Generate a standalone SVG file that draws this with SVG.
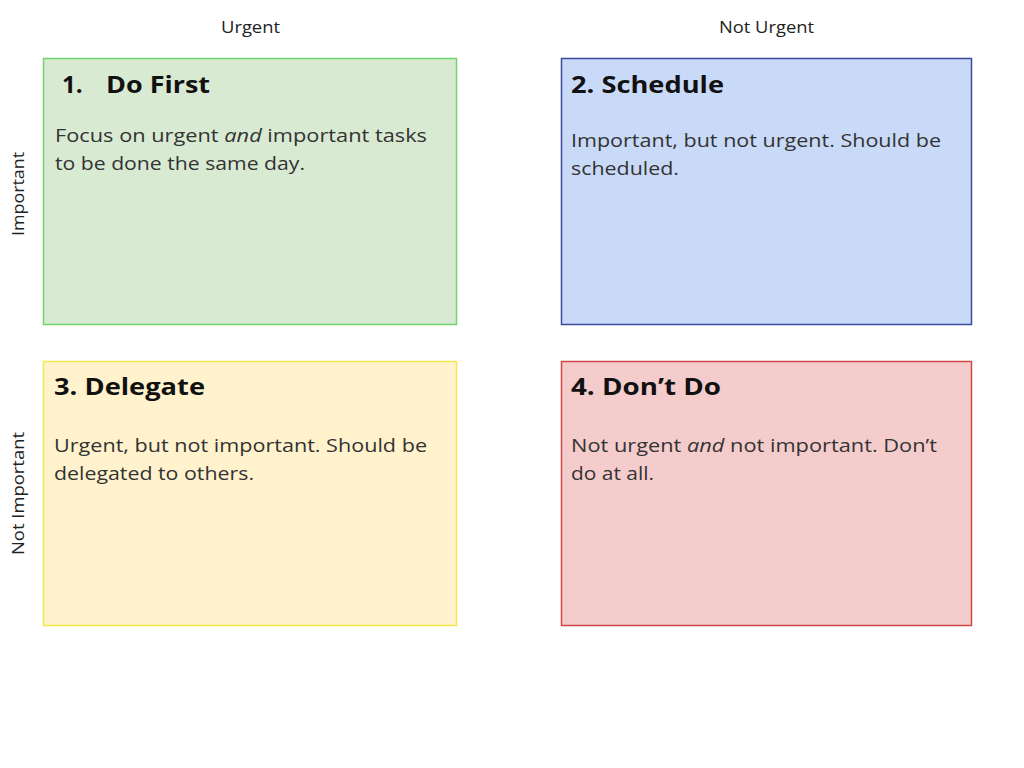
<svg xmlns="http://www.w3.org/2000/svg" width="1024" height="768" viewBox="0 0 1024 768">
<style>
.axis{font-family:"Open Sans","Liberation Sans",sans-serif;font-size:16px;fill:#222}
.title{font-family:"Open Sans","Liberation Sans",sans-serif;font-size:24px;font-weight:bold;fill:#111}
.body{font-family:"Open Sans","Liberation Sans",sans-serif;font-size:19px;fill:#333}
.box{stroke-width:1.5}
</style>
<rect width="1024" height="768" fill="#ffffff"/>
<g id="axes">
<text class="axis" x="221" y="33" textLength="59" lengthAdjust="spacingAndGlyphs">Urgent</text>
<text class="axis" x="719" y="33" textLength="95" lengthAdjust="spacingAndGlyphs">Not Urgent</text>
<text class="axis" transform="translate(24,236) rotate(-90)" textLength="84" lengthAdjust="spacingAndGlyphs">Important</text>
<text class="axis" transform="translate(24,555) rotate(-90)" textLength="123" lengthAdjust="spacingAndGlyphs">Not Important</text>
</g>
<g id="q1">
<rect class="box" x="43.5" y="58.5" width="413" height="266" fill="#d9ead3" stroke="#6fd46f"/>
<text class="title" x="62" y="93">1.</text>
<text class="title" x="106" y="93" textLength="104" lengthAdjust="spacingAndGlyphs">Do First</text>
<text class="body" x="55" y="142" textLength="372" lengthAdjust="spacingAndGlyphs">Focus on urgent <tspan font-style="italic">and</tspan> important tasks</text>
<text class="body" x="55" y="170" textLength="250" lengthAdjust="spacingAndGlyphs">to be done the same day.</text>
</g>
<g id="q2">
<rect class="box" x="561.5" y="58.5" width="410" height="266" fill="#c9daf8" stroke="#3b4a9c"/>
<text class="title" x="571" y="93" textLength="153" lengthAdjust="spacingAndGlyphs">2. Schedule</text>
<text class="body" x="571" y="147" textLength="370" lengthAdjust="spacingAndGlyphs">Important, but not urgent. Should be</text>
<text class="body" x="571" y="175" textLength="108" lengthAdjust="spacingAndGlyphs">scheduled.</text>
</g>
<g id="q3">
<rect class="box" x="43.5" y="361.5" width="413" height="264" fill="#fff2cc" stroke="#f2e94e"/>
<text class="title" x="54" y="395" textLength="151" lengthAdjust="spacingAndGlyphs">3. Delegate</text>
<text class="body" x="54" y="452" textLength="373" lengthAdjust="spacingAndGlyphs">Urgent, but not important. Should be</text>
<text class="body" x="54" y="480" textLength="200" lengthAdjust="spacingAndGlyphs">delegated to others.</text>
</g>
<g id="q4">
<rect class="box" x="561.5" y="361.5" width="410" height="264" fill="#f4cccc" stroke="#d24848"/>
<text class="title" x="571" y="395" textLength="150" lengthAdjust="spacingAndGlyphs">4. Don’t Do</text>
<text class="body" x="571" y="452" textLength="366" lengthAdjust="spacingAndGlyphs">Not urgent <tspan font-style="italic">and</tspan> not important. Don’t</text>
<text class="body" x="571" y="480" textLength="83" lengthAdjust="spacingAndGlyphs">do at all.</text>
</g>
<g id="connectors"></g>
</svg>
